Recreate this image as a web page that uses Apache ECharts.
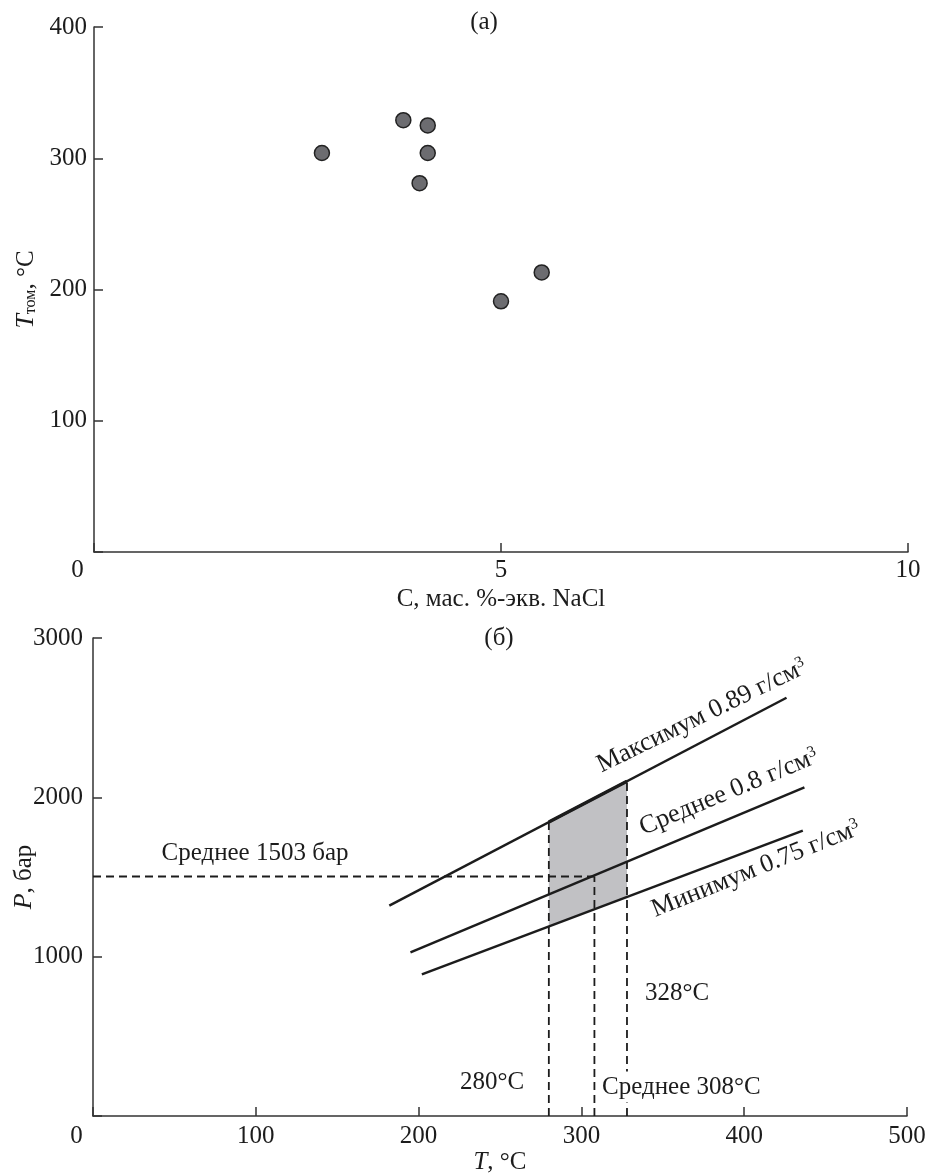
<!DOCTYPE html>
<html>
<head>
<meta charset="utf-8">
<script src="https://cdn.jsdelivr.net/npm/echarts@6/dist/echarts.min.js"></script>
<style>
	html, body { margin: 0; padding: 0; background: #fff; }
	#chart { width: 928px; height: 1174px; }
</style>
</head>
<body>
<div id="chart"></div>
<script>
	// (а) включения: соленость vs температура гомогенизации
	let salinity = [2.8, 3.8, 4.1, 4.1, 4.0, 5.5, 5.0];
	let tHom = [304, 329, 325, 304, 281, 213, 191];

	// (б) изохоры, P-T
	let isoMax = [[182, 1320], [426, 2625]];
	let isoMean = [[195, 1027], [437, 2062]];
	let isoMin = [[202, 889], [436, 1791]];
	let fieldArea = [[280, 1845], [328, 2101], [328, 1378], [280, 1190]];
	let tMin = 280, tMax = 328, tMean = 308, pMean = 1503;

	let font = "'Liberation Serif', 'Times New Roman', serif";
	let ink = '#1c1c1c';

	let chart = echarts.init(document.getElementById('chart'));

	let axisBase = {
		axisLine: { lineStyle: { color: '#333', width: 1.5 } },
		axisTick: { inside: true, length: 9, lineStyle: { color: '#333', width: 1.5 } },
		splitLine: { show: false },
		nameLocation: 'middle',
		nameMoveOverlap: false,
		nameTextStyle: { fontFamily: font, fontSize: 25, color: ink },
	};

	// сдвиг подписи "0" влево, как в оригинале
	let zeroLabel = (v) => v === 0 ? '{z|0}' : String(v);
	let zeroRich = { z: { fontFamily: font, fontSize: 25, color: ink, padding: [0, 33, 0, 0] } };
	let noZero = (v) => v === 0 ? '' : String(v);

	let dashed = (pts) => ({
		type: 'line', xAxisIndex: 1, yAxisIndex: 1, data: pts, symbol: 'none', silent: true,
		lineStyle: { color: ink, width: 1.8, type: [8, 5] }, z: 4
	});
	let solid = (pts, w) => ({
		type: 'line', xAxisIndex: 1, yAxisIndex: 1, data: pts, symbol: 'none', silent: true,
		lineStyle: { color: ink, width: w }, z: 5
	});

	let text = (str, x, y, opts) => Object.assign({
		type: 'text', x: x, y: y, z: 100,
		style: Object.assign({
			text: str, fontFamily: font, fontSize: 25, fill: ink,
			align: 'center', verticalAlign: 'middle'
		}, (opts && opts.style) || {})
	}, (opts && opts.el) || {});

	let supRich = {
		n: { fontFamily: font, fontSize: 26, color: ink },
		sup: { fontFamily: font, fontSize: 16, color: ink, verticalAlign: 'top', padding: [0, 0, 10, 0] }
	};

	chart.setOption({
		animation: false,
		textStyle: { fontFamily: font },
		grid: [
			{ left: 94, right: 20, top: 27, height: 525, outerBoundsMode: 'none', containLabel: false },
			{ left: 93, right: 21, top: 638, height: 478, outerBoundsMode: 'none', containLabel: false }
		],
		xAxis: [
			Object.assign({}, axisBase, {
				gridIndex: 0, type: 'value', min: 0, max: 10, interval: 5,
				name: 'C, мас. %-экв. NaCl', nameGap: 35,
				axisLabel: { formatter: zeroLabel, rich: zeroRich, fontFamily: font, fontSize: 25, color: ink, margin: 6 }
			}),
			Object.assign({}, axisBase, {
				gridIndex: 1, type: 'value', min: 0, max: 500, interval: 100,
				name: '{i|T}{n|, °C}', nameGap: 34,
				nameTextStyle: {
					fontFamily: font, fontSize: 25, color: ink,
					rich: { i: { fontFamily: font, fontSize: 25, fontStyle: 'italic', color: ink }, n: { fontFamily: font, fontSize: 25, color: ink } }
				},
				axisLabel: { formatter: zeroLabel, rich: zeroRich, fontFamily: font, fontSize: 25, color: ink, margin: 8 }
			})
		],
		yAxis: [
			Object.assign({}, axisBase, {
				gridIndex: 0, type: 'value', min: 0, max: 400, interval: 100,
				name: '{i|T}{s|том}{n|, °C}', nameGap: 55,
				nameTextStyle: {
					fontFamily: font, fontSize: 25, color: ink,
					rich: {
						i: { fontFamily: font, fontSize: 26, fontStyle: 'italic', color: ink, lineHeight: 30, verticalAlign: 'bottom' },
						s: { fontFamily: font, fontSize: 16, color: ink, lineHeight: 22, verticalAlign: 'bottom' },
						n: { fontFamily: font, fontSize: 25, color: ink, lineHeight: 30, verticalAlign: 'bottom' }
					}
				},
				axisLabel: { formatter: noZero, fontFamily: font, fontSize: 25, color: ink, margin: 7 }
			}),
			Object.assign({}, axisBase, {
				gridIndex: 1, type: 'value', min: 0, max: 3000, interval: 1000,
				name: '{i|P}{n|, бар}', nameGap: 56,
				nameTextStyle: {
					fontFamily: font, fontSize: 25, color: ink,
					rich: { i: { fontFamily: font, fontSize: 26, fontStyle: 'italic', color: ink }, n: { fontFamily: font, fontSize: 25, color: ink } }
				},
				axisLabel: { formatter: noZero, fontFamily: font, fontSize: 25, color: ink, margin: 10 }
			})
		],
		series: [
			{
				type: 'scatter', xAxisIndex: 0, yAxisIndex: 0, silent: true,
				data: salinity.map((c, i) => [c, tHom[i]]),
				symbolSize: 15,
				itemStyle: { color: '#6c6c70', borderColor: '#222', borderWidth: 1.5, opacity: 1 }
			},
			{
				type: 'custom', xAxisIndex: 1, yAxisIndex: 1, silent: true, z: 3,
				data: fieldArea,
				encode: { x: 0, y: 1 },
				renderItem: (params, api) => {
					if (params.dataIndex > 0) return null;
					let pts = fieldArea.map(p => api.coord(p));
					return { type: 'polygon', shape: { points: pts }, style: { fill: '#c1c1c4' } };
				}
			},
			solid(isoMax, 2.5),
			solid(isoMean, 2.5),
			solid(isoMin, 2.5),
			solid([fieldArea[0], fieldArea[1]], 3.5),
			dashed([[tMin, 0], fieldArea[0]]),
			dashed([[tMax, 0], fieldArea[1]]),
			dashed([[tMean, 0], [tMean, pMean]]),
			dashed([[0, pMean], [tMean, pMean]])
		],
		graphic: [
			text('(а)', 484, 22),
			text('(б)', 499, 638),
			text('Среднее 1503 бар', 255, 853),
			text('328°C', 677, 993),
			text('280°C', 492, 1082),
			text('Среднее 308°C', 602, 1087, { style: { align: 'left', backgroundColor: '#fff', padding: [3, 4, 3, 0] } }),
			text('{n|Максимум 0.89 г/см}{sup|3}', 702, 716, { style: { rich: supRich }, el: { rotation: 26 * Math.PI / 180 } }),
			text('{n|Среднее 0.8 г/см}{sup|3}', 729, 792, { style: { rich: supRich }, el: { rotation: 22.5 * Math.PI / 180 } }),
			text('{n|Минимум 0.75 г/см}{sup|3}', 756, 869, { style: { rich: supRich }, el: { rotation: 22 * Math.PI / 180 } })
		]
	});
</script>
</body>
</html>
